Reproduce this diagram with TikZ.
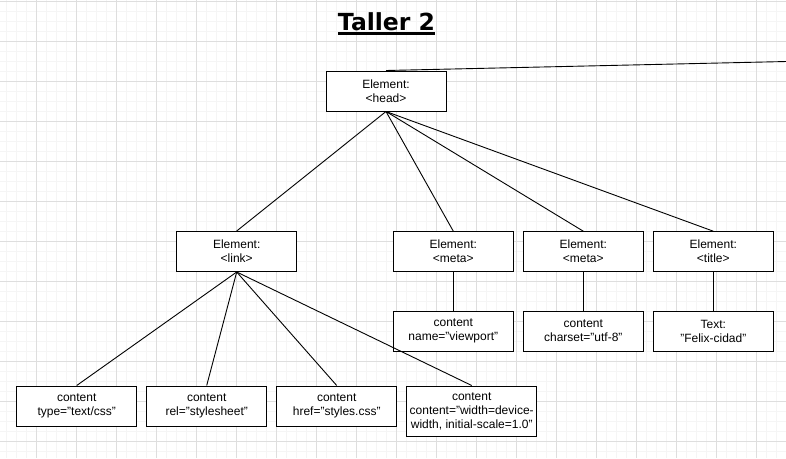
\documentclass[tikz,border=0pt]{standalone}
\usepackage{fontspec}
\setmainfont{Liberation Sans}
\newfontfamily\titlefont{DejaVu Sans}
\definecolor{gridmajor}{HTML}{DEDEDE}
\definecolor{gridminor}{HTML}{F5F5F5}
\tikzset{
  box/.style={draw=black, line width=1pt, fill=white, minimum width=120pt, minimum height=40pt,
    inner sep=0pt, align=center, font=\fontsize{12}{14}\selectfont},
  wide/.style={minimum width=130pt, minimum height=50pt},
  conn/.style={draw=black, line width=0.9pt},
}
\begin{document}
\begin{tikzpicture}[x=1pt,y=-1pt]
\useasboundingbox (0,0) rectangle (786,458);
\fill[white] (0,0) rectangle (786,458);
% minor grid
\foreach \x in {6,16,...,786} \draw[gridminor, line width=0.8pt] (\x,0) -- (\x,458);
\foreach \y in {1.5,11.5,...,458} \draw[gridminor, line width=0.8pt] (0,\y) -- (786,\y);
% major grid
\foreach \x in {36,76,...,786} \draw[gridmajor, line width=0.8pt] (\x,0) -- (\x,458);
\foreach \y in {1.5,41.5,...,458} \draw[gridmajor, line width=0.8pt] (0,\y) -- (786,\y);

% title
\node[anchor=base, inner sep=0pt, font=\titlefont\fontsize{23.5}{28}\selectfont\bfseries] (ttl) at (386.5,30) {Taller 2};
\draw[line width=2.6pt] ([yshift=-3.5pt]ttl.base west) -- ([yshift=-3.5pt]ttl.base east);

% coordinate for off-screen parent
\coordinate (parent) at (800,61.2);

\node[box] (head) at (386,91) {Element:\\<head>};
\node[box] (link) at (236.7,251.5) {Element:\\<link>};
\node[box] (meta1) at (453.3,251.7) {Element:\\<meta>};
\node[box] (meta2) at (583.3,251.7) {Element:\\<meta>};
\node[box] (title) at (713.3,251.7) {Element:\\<title>};
\node[box] (c1) at (453.3,331) {content\\name="viewport"};
\node[box] (c2) at (583.3,331) {content\\charset="utf-8"};
\node[box] (c3) at (713.3,331) {Text:\\"Felix-cidad"};
\node[box] (b1) at (76.7,406) {content\\type="text/css"};
\node[box] (b2) at (206.7,406) {content\\rel="stylesheet"};
\node[box] (b3) at (336.7,406) {content\\href="styles.css"};
\node[box, wide] (b4) at (471.7,411) {content\\content="width=device-\\width, initial-scale=1.0"};

\draw[conn] (head.north) -- (parent);
\draw[conn] (head.south) -- (link.north);
\draw[conn] (head.south) -- (meta1.north);
\draw[conn] (head.south) -- (meta2.north);
\draw[conn] (head.south) -- (title.north);
\draw[conn] (meta1.south) -- (c1.north);
\draw[conn] (meta2.south) -- (c2.north);
\draw[conn] (title.south) -- (c3.north);
\draw[conn] (link.south) -- (b1.north);
\draw[conn] (link.south) -- (b2.north);
\draw[conn] (link.south) -- (b3.north);
\draw[conn] (link.south) -- (b4.north);
\end{tikzpicture}
\end{document}
